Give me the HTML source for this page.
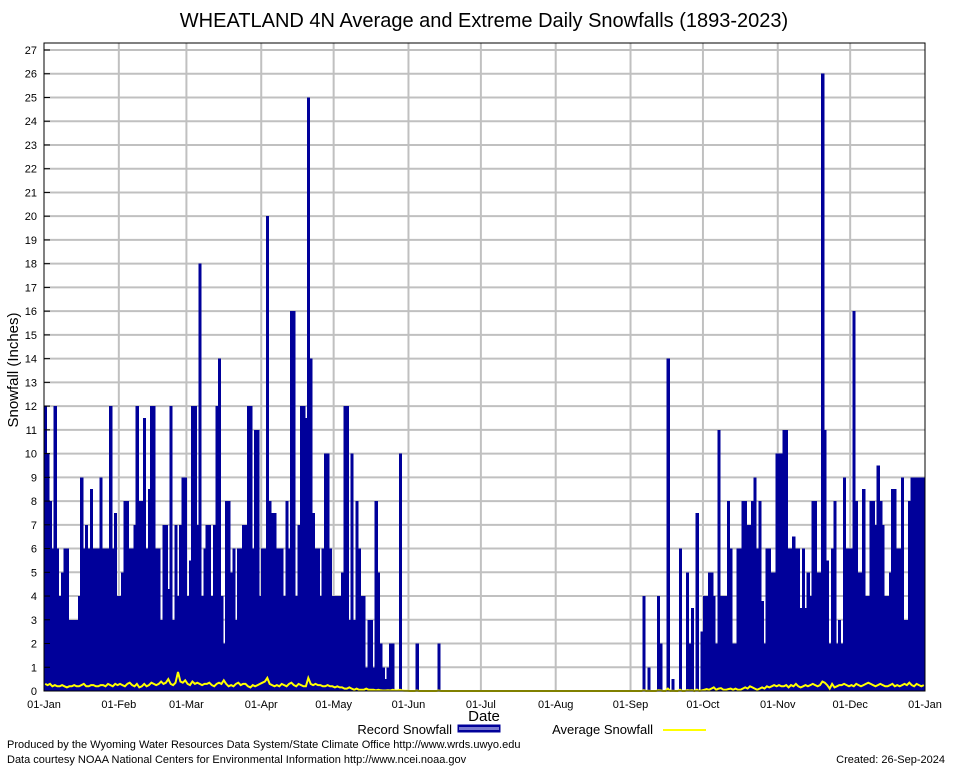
<!DOCTYPE html>
<html><head><meta charset="utf-8"><style>
body{margin:0;background:#fff;}
svg{display:block;font-family:"Liberation Sans",sans-serif;}
</style></head><body>
<svg id="chart" width="954" height="768">
<rect x="0" y="0" width="954" height="768" fill="#fff"/>
<text x="484" y="27" font-size="20" text-anchor="middle">WHEATLAND 4N Average and Extreme Daily Snowfalls (1893-2023)</text>
<g id="grid"></g><g id="bars"></g><g id="avg"></g><g id="axes"></g>
<text transform="translate(18,370) rotate(-90)" font-size="15" text-anchor="middle">Snowfall (Inches)</text>
<text x="484" y="721" font-size="15" text-anchor="middle">Date</text>
<g>
<text x="452" y="734" font-size="13" text-anchor="end">Record Snowfall</text>
<rect x="458" y="725" width="42" height="7" fill="#00009a" stroke="#00009a"/>
<rect x="459" y="727" width="40" height="3" fill="#7a7ad0"/>
<text x="653" y="734" font-size="13" text-anchor="end">Average Snowfall</text>
<line x1="663" y1="730" x2="706" y2="730" stroke="#ffff00" stroke-width="2"/>
</g>
<text x="7" y="748" font-size="11">Produced by the Wyoming Water Resources Data System/State Climate Office http://www.wrds.uwyo.edu</text>
<text x="7" y="763" font-size="11">Data courtesy NOAA National Centers for Environmental Information http://www.ncei.noaa.gov</text>
<text x="945" y="763" font-size="11" text-anchor="end">Created:  26-Sep-2024</text>
</svg>
<script>
const monthLabels=["01-Jan","01-Feb","01-Mar","01-Apr","01-May","01-Jun","01-Jul","01-Aug","01-Sep","01-Oct","01-Nov","01-Dec","01-Jan"];
const monthLengths=[31,28,31,30,31,30,31,31,30,31,30,31];
const yTicks=[0,1,2,3,4,5,6,7,8,9,10,11,12,13,14,15,16,17,18,19,20,21,22,23,24,25,26,27];
const recJan=[12,10,8,6,12,6,4,5,6,6,3,3,3,3,4,9,6,7,6,8.5,6,6,6,9,6,6,6,12,6,7.5,4];
const recFeb=[4,5,8,8,6,6,7,12,8,8,11.5,6,8.5,12,12,6,6,3,7,7,4.3,12,3,7,4,7,9,9];
const recMar=[4,5.5,12,12,7,18,4,6,7,7,4,7,12,14,4,2,8,8,5,6,3,6,6,7,7,12,12,6,11,11,4];
const recApr=[6,6,20,8,7.5,7.5,6,6,6,4,8,6,16,16,4,7,12,12,11.5,25,14,7.5,6,6,4,6,10,10,6,4];
const recMay=[4,4,4,5,12,12,3,10,3,8,6,4,4,1,3,3,1,8,5,2,1,0.5,1,2,2,0,0,10,0,0,0];
const recJun=[0,0,0,2,0,0,0,0,0,0,0,0,2,0,0,0,0,0,0,0,0,0,0,0,0,0,0,0,0,0];
const recJul=[0,0,0,0,0,0,0,0,0,0,0,0,0,0,0,0,0,0,0,0,0,0,0,0,0,0,0,0,0,0,0];
const recAug=[0,0,0,0,0,0,0,0,0,0,0,0,0,0,0,0,0,0,0,0,0,0,0,0,0,0,0,0,0,0,0];
const recSep=[0,0,0,0,0,4,0,1,0,0,0,4,2,0,0,14,0,0.5,0,0,6,0,0,5,2,3.5,0,7.5,0,2.5];
const recOct=[4,4,5,5,4,2,11,4,4,4,8,6,2,2,6,6,8,8,7,7,8,9,6,8,3.8,2,6,6,5,5,10];
const recNov=[10,10,11,11,6,6,6.5,6,6,3.5,6,3.5,5,4,8,8,5,5,26,11,5.5,2,6,8,2,3,2,9,6,6];
const recDec=[6,16,8,5,5,8.5,4,4,8,8,7,9.5,8,7,4,4,5,8.5,8.5,6,6,9,3,3,8,9,9,9,9,9,9];
const avgJan=[0.3,0.25,0.3,0.2,0.25,0.2,0.2,0.25,0.2,0.15,0.2,0.2,0.25,0.2,0.2,0.25,0.3,0.2,0.2,0.25,0.25,0.2,0.2,0.25,0.25,0.2,0.3,0.25,0.2,0.3,0.25];
const avgFeb=[0.3,0.25,0.2,0.3,0.35,0.25,0.2,0.3,0.15,0.2,0.3,0.2,0.25,0.35,0.3,0.25,0.3,0.4,0.3,0.35,0.5,0.3,0.25,0.35,0.8,0.4,0.35,0.45];
const avgMar=[0.3,0.25,0.4,0.3,0.35,0.3,0.25,0.3,0.3,0.35,0.25,0.2,0.3,0.35,0.3,0.45,0.3,0.2,0.25,0.2,0.3,0.35,0.25,0.3,0.3,0.2,0.15,0.25,0.2,0.25,0.3];
const avgApr=[0.35,0.4,0.55,0.3,0.25,0.2,0.25,0.2,0.3,0.25,0.2,0.3,0.35,0.25,0.2,0.3,0.25,0.2,0.2,0.55,0.3,0.25,0.3,0.25,0.25,0.2,0.2,0.25,0.2,0.2];
const avgMay=[0.15,0.2,0.15,0.15,0.1,0.1,0.15,0.1,0.05,0.1,0.05,0.05,0.05,0.1,0.05,0.05,0.05,0.03,0.05,0.03,0.02,0.02,0.03,0.02,0.05,0.02,0.02,0.05,0.02,0.01,0.01];
const avgJun=[0,0,0,0.02,0,0,0,0,0,0,0,0,0.02,0,0,0,0,0,0,0,0,0,0,0,0,0,0,0,0,0];
const avgJul=[0,0,0,0,0,0,0,0,0,0,0,0,0,0,0,0,0,0,0,0,0,0,0,0,0,0,0,0,0,0,0];
const avgAug=[0,0,0,0,0,0,0,0,0,0,0,0,0,0,0,0,0,0,0,0,0,0,0,0,0,0,0,0,0,0,0];
const avgSep=[0,0,0,0,0,0.03,0,0.01,0,0,0,0.03,0.02,0,0,0.1,0,0.01,0,0,0.05,0,0,0.04,0.02,0.03,0,0.06,0,0.02];
const avgOct=[0.05,0.08,0.05,0.1,0.15,0.05,0.1,0.12,0.05,0.05,0.08,0.1,0.05,0.1,0.05,0.05,0.1,0.15,0.1,0.2,0.15,0.1,0.05,0.1,0.15,0.1,0.2,0.15,0.2,0.25,0.2];
const avgNov=[0.25,0.2,0.2,0.25,0.15,0.25,0.2,0.3,0.2,0.15,0.2,0.25,0.2,0.25,0.3,0.25,0.2,0.25,0.4,0.35,0.25,0.1,0.3,0.15,0.2,0.25,0.25,0.3,0.25,0.2];
const avgDec=[0.25,0.2,0.3,0.25,0.2,0.25,0.3,0.35,0.3,0.25,0.2,0.25,0.3,0.25,0.2,0.2,0.25,0.3,0.2,0.25,0.2,0.25,0.3,0.25,0.35,0.25,0.2,0.3,0.25,0.2,0.25];

const record=[].concat(recJan,recFeb,recMar,recApr,recMay,recJun,recJul,recAug,recSep,recOct,recNov,recDec);
const average=[].concat(avgJan,avgFeb,avgMar,avgApr,avgMay,avgJun,avgJul,avgAug,avgSep,avgOct,avgNov,avgDec);

const NS="http://www.w3.org/2000/svg";
const X0=44,X1=925,Y0=691,Y1=50,TOP=43;
const nDays=365;
const xScale=d=>X0+d*(X1-X0)/nDays;
const yScale=v=>Y0-v*(Y0-Y1)/27;
function mk(tag,attrs,parent){const e=document.createElementNS(NS,tag);for(const k in attrs)e.setAttribute(k,attrs[k]);parent.appendChild(e);return e;}
const grid=document.getElementById('grid'),bars=document.getElementById('bars'),avgG=document.getElementById('avg'),axes=document.getElementById('axes');

yTicks.forEach(t=>{
  const y=yScale(t);
  if(t>0){const l=mk('line',{x1:X0,x2:X1,y1:y,y2:y,stroke:'#c0c0c0','stroke-width':2},grid);
  
  }
  const tk=mk('line',{x1:X0,x2:X0+6,y1:y,y2:y,stroke:'#000'},axes);
  
  
  const tx=mk('text',{x:37,y:y+4,'font-size':11,'text-anchor':'end'},axes);
  tx.textContent=t;
  
  
});
let day=0;
monthLabels.forEach((lab,i)=>{
  const x=xScale(day);
  if(i>0&&i<12){const l=mk('line',{x1:x,x2:x,y1:TOP,y2:Y0,stroke:'#c0c0c0','stroke-width':2},grid);
  
  }
  const tx=mk('text',{x:x,y:708,'font-size':11,'text-anchor':'middle'},axes);
  tx.textContent=lab;
  
  
  if(i<12)day+=monthLengths[i];
});
const w=(X1-X0)/nDays;
record.forEach((v,i)=>{
  if(v<=0)return;
  const r=mk('rect',{x:xScale(i),y:yScale(v),width:w+0.7,height:Y0-yScale(v),fill:'#00009a','shape-rendering':'crispEdges'},bars);
  
  
});
const pts=average.map((v,i)=>(xScale(i)+w/2).toFixed(1)+','+yScale(v).toFixed(1)).join(' ');
const pl=mk('polyline',{points:pts,fill:'none',stroke:'#ffff00','stroke-width':2},avgG);


const box=mk('rect',{x:X0,y:TOP,width:X1-X0,height:Y0-TOP,fill:'none',stroke:'#000','stroke-width':1},axes);


</script>
</body></html>
